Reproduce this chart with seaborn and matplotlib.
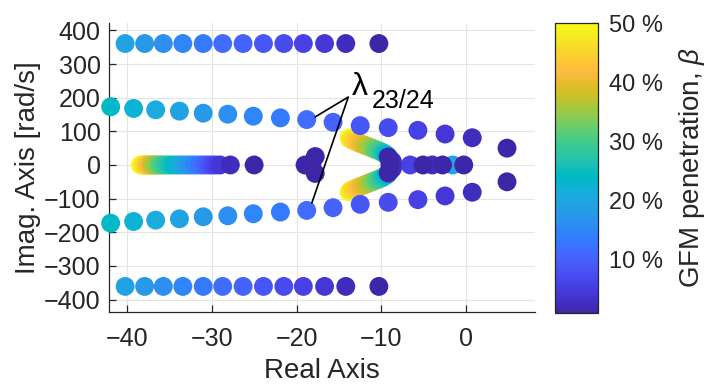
import numpy as np
import pandas as pd
import matplotlib
matplotlib.use("Agg")
import matplotlib.pyplot as plt
from matplotlib.colors import LinearSegmentedColormap, Normalize
from matplotlib.cm import ScalarMappable
import seaborn as sns

# GFM penetration levels (%) of the sweep
beta = [1.0, 2.5, 4.1, 5.6, 7.1, 8.7, 10.2, 11.7, 13.3, 14.8, 16.3, 17.8,
        19.4, 20.9, 22.4, 24.0, 25.5, 27.0, 28.6, 30.1, 31.6, 33.2, 34.7,
        36.2, 37.8, 39.3, 40.8, 42.3, 43.9, 45.4, 46.9, 48.5, 50.0]

# outer oscillatory pair (one point per beta, starting at beta[0])
outer_re = [-10.3, -14.2, -16.7, -19.2, -21.5, -23.9, -26.3, -28.7, -31.0,
            -33.4, -35.7, -37.9, -40.2]
outer_im = [361, 361, 361, 361, 361, 361, 361, 361, 361, 361, 361, 361, 361]

# lambda_23/24 pair
l23_re = [4.8, 0.7, -2.5, -5.7, -9.2, -12.5, -15.7, -18.8, -21.9, -25.1,
          -28.1, -31.0, -33.8, -36.6, -39.2, -41.9]
l23_im = [50, 81, 92, 103, 111, 117, 127, 135, 140, 145, 151, 154, 160,
          164, 168, 173]

# real mode moving left with beta
left_re = [-25.0, -27.8, -29.0, -29.5, -29.9, -30.3, -30.7, -31.1, -31.5,
           -32.0, -32.4, -32.8, -33.2, -33.6, -34.0, -34.4, -34.8, -35.1,
           -35.5, -35.8, -36.1, -36.3, -36.6, -36.8, -37.0, -37.1, -37.3,
           -37.5, -37.7, -37.9, -38.0, -38.2, -38.4]

# pair splitting off the real axis (beta[9] ... beta[32])
v_re = [-8.8, -8.9, -9.0, -9.1, -9.2, -9.3, -9.4, -9.6, -9.8, -10.0, -10.3,
        -10.6, -10.9, -11.2, -11.5, -11.8, -12.1, -12.4, -12.7, -13.0,
        -13.3, -13.5, -13.7, -13.8]
v_im = [12, 15, 18, 21, 24, 27, 30, 33, 36, 39, 42, 45, 48, 51, 54, 57, 60,
        63, 66, 69, 72, 75, 78, 80]

# low-penetration poles near the real axis
low_re = [-9.2, -8.7, -9.0, -17.8, -19.0, -18.2, -6.6, -5.1, -4.0, -2.8,
          -1.6, -0.3]
low_im = [24, 10, 0, 25, 0, 0, 0, 0, 0, 0, 0, 0]
low_beta = [1.0, 2.5, 1.0, 1.0, 1.0, 2.5, 5.6, 1.0, 2.5, 1.0, 19.4, 1.0]

# parula colour table
parula_rgb = [
    [0.2422, 0.1504, 0.6603], [0.2504, 0.1650, 0.7076], [0.2578, 0.1818, 0.7511],
    [0.2647, 0.1978, 0.7952], [0.2706, 0.2147, 0.8364], [0.2751, 0.2342, 0.8710],
    [0.2783, 0.2559, 0.8991], [0.2803, 0.2782, 0.9221], [0.2813, 0.3006, 0.9414],
    [0.2810, 0.3228, 0.9579], [0.2795, 0.3447, 0.9717], [0.2760, 0.3667, 0.9829],
    [0.2699, 0.3892, 0.9906], [0.2602, 0.4123, 0.9952], [0.2440, 0.4358, 0.9988],
    [0.2206, 0.4603, 0.9973], [0.1963, 0.4847, 0.9892], [0.1834, 0.5074, 0.9798],
    [0.1786, 0.5289, 0.9682], [0.1764, 0.5499, 0.9520], [0.1687, 0.5703, 0.9359],
    [0.1540, 0.5902, 0.9218], [0.1460, 0.6091, 0.9079], [0.1380, 0.6276, 0.8973],
    [0.1248, 0.6459, 0.8883], [0.1113, 0.6635, 0.8763], [0.0952, 0.6798, 0.8598],
    [0.0689, 0.6948, 0.8394], [0.0297, 0.7082, 0.8163], [0.0036, 0.7203, 0.7917],
    [0.0067, 0.7312, 0.7660], [0.0433, 0.7411, 0.7394], [0.0964, 0.7500, 0.7120],
    [0.1408, 0.7584, 0.6842], [0.1717, 0.7670, 0.6554], [0.1938, 0.7758, 0.6251],
    [0.2161, 0.7843, 0.5923], [0.2470, 0.7918, 0.5567], [0.2906, 0.7973, 0.5188],
    [0.3406, 0.8008, 0.4789], [0.3909, 0.8029, 0.4354], [0.4456, 0.8024, 0.3909],
    [0.5044, 0.7993, 0.3480], [0.5616, 0.7942, 0.3045], [0.6174, 0.7876, 0.2612],
    [0.6720, 0.7793, 0.2227], [0.7242, 0.7698, 0.1910], [0.7738, 0.7598, 0.1646],
    [0.8203, 0.7498, 0.1535], [0.8634, 0.7406, 0.1596], [0.9035, 0.7330, 0.1774],
    [0.9393, 0.7288, 0.2100], [0.9728, 0.7298, 0.2394], [0.9956, 0.7434, 0.2371],
    [0.9970, 0.7659, 0.2199], [0.9952, 0.7893, 0.2028], [0.9892, 0.8136, 0.1885],
    [0.9786, 0.8386, 0.1766], [0.9676, 0.8639, 0.1643], [0.9610, 0.8890, 0.1537],
    [0.9597, 0.9135, 0.1423], [0.9628, 0.9373, 0.1265], [0.9691, 0.9606, 0.1064],
    [0.9769, 0.9839, 0.0805]]
parula = LinearSegmentedColormap.from_list("parula", parula_rgb)

# ---- assemble the pole table (conjugate pairs mirrored) ----
rows = []
def add_pairs(re, im, b):
    for r, i, bb in zip(re, im, b):
        rows.append((r, i, bb))
        if i != 0:
            rows.append((r, -i, bb))

add_pairs(outer_re, outer_im, beta[:len(outer_re)])
add_pairs(l23_re, l23_im, beta[:len(l23_re)])
add_pairs(left_re, [0] * len(left_re), beta[:len(left_re)])
add_pairs(v_re, v_im, beta[9:9 + len(v_re)])
add_pairs(low_re, low_im, low_beta)

poles = pd.DataFrame(rows, columns=["re", "im", "beta"])
# high penetration drawn first, low penetration on top
poles = poles.sort_values("beta", ascending=False, kind="stable")

# ---- figure ----
sns.set_theme(style="white")
plt.rcParams["font.family"] = ["Liberation Sans", "DejaVu Sans"]
plt.rcParams["mathtext.fontset"] = "custom"
plt.rcParams["mathtext.rm"] = "Liberation Sans"
plt.rcParams["mathtext.it"] = "Liberation Sans:italic"
plt.rcParams["mathtext.bf"] = "Liberation Sans:bold"

dark = "#262626"
fig = plt.figure(figsize=(7.11, 3.88), dpi=100)
ax = fig.add_axes([0.1533, 0.1959, 0.5992, 0.7448])

norm = Normalize(vmin=1, vmax=50)
sns.scatterplot(data=poles, x="re", y="im", hue="beta", palette=parula,
                hue_norm=norm, s=185, linewidth=0, legend=False, ax=ax,
                clip_on=False, zorder=3)

ax.set_xlim(-42.1, 8.1)
ax.set_ylim(-437, 422)
ax.set_xticks([-40, -30, -20, -10, 0])
ax.set_yticks([-400, -300, -200, -100, 0, 100, 200, 300, 400])
ax.grid(True, color="#e4e4e4", linewidth=0.8)
ax.set_axisbelow(True)
for side in ("top", "right"):
    ax.spines[side].set_visible(False)
for side in ("left", "bottom"):
    ax.spines[side].set_color(dark)
    ax.spines[side].set_linewidth(0.9)
ax.tick_params(direction="in", length=5, width=0.9, color=dark,
               labelcolor=dark, labelsize=18, left=True, bottom=True)
ax.tick_params(axis="y", pad=6)
ax.tick_params(axis="x", pad=11)
ax.set_xlabel("Real Axis", fontsize=20, color=dark, labelpad=5)
ax.set_ylabel("Imag. Axis [rad/s]", fontsize=20, color=dark, labelpad=2)

# lambda_23/24 callout
ax.plot([-17.8, -13.9, -18.2], [143, 202, -113], color="black", lw=1.2,
        zorder=4)
ax.text(-13.5, 208, "\u03bb", fontsize=23, color="black", ha="left",
        va="baseline", zorder=5)
ax.text(-11.1, 169, "23/24", fontsize=18, color="black", ha="left",
        va="baseline", zorder=5)

# colour bar
cax = fig.add_axes([0.7806, 0.1933, 0.0605, 0.7474])
cb = fig.colorbar(ScalarMappable(norm=norm, cmap=parula), cax=cax)
cb.set_ticks([10, 20, 30, 40, 50])
cb.set_ticklabels(["10 %", "20 %", "30 %", "40 %", "50 %"])
cb.outline.set_edgecolor(dark)
cb.outline.set_linewidth(0.9)
cax.tick_params(direction="in", length=4, width=0.9, color=dark,
                labelcolor=dark, labelsize=17, pad=8)
cb.set_label(r"GFM penetration, $\beta$", fontsize=20, color=dark,
             labelpad=10)

fig.savefig("out.png", dpi=100)
